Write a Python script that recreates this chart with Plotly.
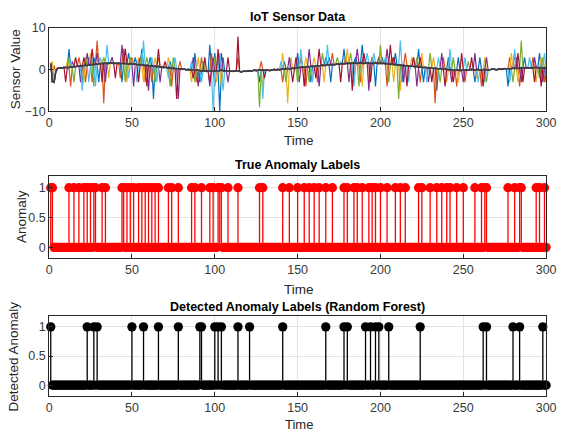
import plotly.graph_objects as go

# ---------------- data ----------------
time = list(range(1, 301))

# slowly drifting common level of the sensors (t = 1..300)
sensor_baseline = [
    1.5, -2.8, -3.0, -0.5, 0.3, 0.4, 0.5, 0.4, 0.6, 0.5,
    0.6, 0.5, 0.7, 0.6, 0.8, 0.7, 0.9, 0.8, 1.0, 0.9,
    1.0, 1.1, 1.0, 1.2, 1.1, 1.3, 1.2, 1.4, 1.3, 1.4,
    1.5, 1.4, 1.6, 1.5, 1.6, 1.5, 1.7, 1.6, 1.5, 1.6,
    1.5, 1.6, 1.4, 1.5, 1.6, 1.4, 1.5, 1.3, 1.4, 1.5,
    1.3, 1.4, 1.2, 1.3, 1.2, 1.1, 1.2, 1.0, 1.1, 1.0,
    0.9, 1.0, 0.8, 0.9, 0.7, 0.8, 0.6, 0.7, 0.5, 0.6,
    0.5, 0.4, 0.5, 0.3, 0.4, 0.3, 0.2, 0.3, 0.2, 0.1,
    0.2, 0.1, 0.0, 0.1, 0.0, -0.1, 0.0, -0.1, 0.0, -0.2,
    -0.2, -0.3, -0.2, -0.3, -0.4, -0.3, -0.2, -0.3, -0.4, -0.3,
    -0.2, -0.3, -0.2, -0.1, -0.2, -0.3, -0.2, -0.3, -0.4, -0.3,
    -0.4, -0.3, -0.2, -0.3, -0.4, -0.5, -0.4, -0.3, -0.4, -0.3,
    -0.2, -0.3, -0.2, -0.1, -0.2, -0.1, 0.0, -0.1, 0.0, -0.1,
    0.0, -0.1, -0.2, -0.1, 0.0, 0.1, 0.0, 0.1, 0.0, 0.1,
    0.2, 0.1, 0.2, 0.3, 0.2, 0.3, 0.4, 0.3, 0.4, 0.5,
    0.5, 0.6, 0.7, 0.6, 0.7, 0.8, 0.7, 0.8, 0.9, 0.8,
    0.9, 1.0, 0.9, 1.0, 1.1, 1.0, 1.1, 1.2, 1.1, 1.2,
    1.3, 1.2, 1.3, 1.4, 1.3, 1.4, 1.5, 1.4, 1.5, 1.6,
    1.5, 1.6, 1.5, 1.7, 1.6, 1.5, 1.6, 1.7, 1.6, 1.5,
    1.6, 1.7, 1.6, 1.5, 1.6, 1.5, 1.7, 1.6, 1.5, 1.6,
    1.5, 1.6, 1.4, 1.5, 1.4, 1.3, 1.4, 1.2, 1.3, 1.2,
    1.1, 1.2, 1.0, 1.1, 0.9, 1.0, 0.9, 0.8, 0.9, 0.8,
    0.7, 0.8, 0.6, 0.7, 0.6, 0.5, 0.6, 0.5, 0.4, 0.5,
    0.4, 0.3, 0.4, 0.3, 0.2, 0.3, 0.2, 0.1, 0.2, 0.1,
    0.0, 0.1, 0.0, -0.1, 0.0, -0.1, 0.0, -0.2, -0.1, 0.0,
    -0.1, 0.0, -0.1, 0.0, 0.1, 0.0, -0.1, 0.0, 0.1, 0.0,
    -0.1, 0.0, 0.1, 0.0, -0.1, 0.0, 0.1, 0.2, 0.1, 0.0,
    0.1, 0.2, 0.1, 0.2, 0.3, 0.2, 0.3, 0.2, 0.3, 0.4,
    0.3, 0.4, 0.3, 0.4, 0.5, 0.4, 0.5, 0.4, 0.5, 0.4,
    0.5, 0.4, 0.5, 0.6, 0.5, 0.4, 0.5, 0.4, 0.5, 0.4,
]

# spike readings of each sensor {time: value}
sensor1_spikes = {2: -2, 12: 5, 20: -3, 24: 3, 27: 3, 30: -3, 44: -3, 48: 4, 52: 3, 56: 5,
                  61: 3, 63: -7, 73: 2, 88: 4, 91: -3, 97: 6, 100: 4, 103: -10, 105: 3,
                  127: -3, 142: 2, 150: 4, 158: -3, 167: 3, 170: -3, 178: 5, 185: 3,
                  189: 6, 197: -4, 201: 3, 209: 4, 213: -3, 223: 5, 226: -3, 234: -5,
                  241: 3, 247: 3, 257: -3, 260: 3, 277: -4, 281: 4, 287: 3, 296: 4, 300: -3}
sensor2_spikes = {3: 1, 13: -4, 18: 3, 22: -3, 26: -3, 29: 7, 33: -8, 43: -2, 45: 5, 50: 3,
                  58: -3, 62: -3, 66: 3, 74: -4, 79: 2, 89: -3, 92: 3, 98: 4, 100: -4,
                  114: 3, 128: 2, 141: -3, 152: 3, 155: -4, 162: -3, 171: 4, 179: 3,
                  184: -3, 188: -3, 195: 3, 204: -4, 207: 3, 215: 4, 224: -3, 233: -8,
                  238: 3, 246: -4, 251: -3, 261: -4, 278: 3, 284: -4, 292: 3, 299: -3}
sensor3_spikes = {2: 2, 11: 2, 21: -3, 25: 4, 30: 3, 36: -2, 47: -3, 54: 3, 57: -3, 64: 3,
                  72: 3, 86: -3, 90: 3, 101: -3, 104: -4, 129: -4, 141: 4, 144: -8,
                  146: 3, 155: 3, 160: 3, 166: -3, 180: 5, 189: -4, 193: -3, 200: 4,
                  208: -3, 212: -5, 219: 3, 225: 4, 232: 3, 240: -3, 247: -3, 258: -2,
                  263: 3, 279: 4, 283: -3, 294: -3, 297: 3}
sensor4_spikes = {1: -3, 14: 2, 19: -3, 23: 4, 29: 4, 34: -3, 38: 3, 44: 6, 51: -4, 55: 3,
                  60: -5, 67: -3, 78: -7, 87: 3, 90: -4, 97: -4, 99: 3, 104: 4, 108: -3,
                  145: 3, 151: -3, 157: 5, 163: -4, 169: 3, 181: -3, 186: 5, 193: -5,
                  199: 3, 204: 5, 214: -3, 222: -4, 229: -3, 237: 4, 243: -3, 250: -3,
                  257: 4, 264: 3, 282: 3, 285: -3, 293: 3, 298: -3}
sensor5_spikes = {12: 3, 15: -3, 22: 3, 27: -4, 33: 3, 46: -3, 49: 3, 56: 4, 59: 3, 64: -3,
                  73: -4, 75: 3, 88: -3, 93: 2, 100: 3, 102: 3, 127: -9, 143: -3, 150: -3,
                  157: -3, 165: 4, 174: 3, 182: 4, 187: -4, 200: 6, 205: -3, 211: -7,
                  222: 3, 230: 4, 236: -3, 244: 3, 253: 2, 264: -3, 280: -3, 285: 7,
                  296: -2, 298: 3}
sensor6_spikes = {13: 2, 20: -5, 24: -3, 28: -4, 31: 3, 35: 6, 48: -2, 53: -3, 57: 7, 62: 3,
                  65: -3, 72: -2, 76: 3, 86: 2, 92: -3, 99: -10, 103: 4, 105: -5, 129: -7,
                  140: 2, 152: 5, 159: -3, 168: 6, 176: 2, 184: -4, 192: 4, 196: 4,
                  203: 3, 212: 7, 217: -3, 228: -3, 235: 3, 242: 5, 251: 3, 259: -3,
                  263: -3, 278: -3, 281: 5, 290: 3, 299: 4}
sensor7_spikes = {10: -3, 16: 3, 21: 3, 26: 5, 32: -3, 40: -2, 46: 5, 54: -3, 59: -4, 66: 5,
                  70: 2, 77: -7, 87: -2, 94: 3, 97: -3, 102: 5, 108: 3, 114: 8, 130: -2,
                  147: -3, 149: 3, 154: -4, 161: -2, 163: 5, 176: -3, 183: -5, 190: 4,
                  194: -3, 206: 6, 208: 3, 216: -4, 220: 3, 224: 3, 231: -3, 239: -4,
                  244: -3, 249: 4, 255: 3, 262: -4, 283: 4, 286: -3, 293: -3, 297: -4}

true_anomaly_times = [1, 2, 12, 15, 18, 21, 23, 25, 27, 28, 32, 34, 44, 45, 47, 49, 51,
                      54, 56, 58, 60, 62, 64, 66, 72, 74, 78, 86, 88, 92, 97, 99, 102,
                      103, 104, 108, 114, 127, 129, 141, 145, 150, 154, 157, 160, 163,
                      167, 171, 178, 180, 184, 186, 189, 193, 195, 197, 200, 204, 209,
                      212, 215, 223, 225, 230, 234, 237, 240, 242, 246, 250, 257, 261,
                      263, 264, 277, 281, 284, 285, 294, 296, 299]
detected_anomaly_times = [1, 23, 27, 29, 50, 57, 66, 78, 91, 92, 100, 102, 104, 114, 121,
                          141, 167, 178, 180, 191, 194, 197, 199, 205, 224, 262, 264,
                          280, 284, 298]

x_tick_vals = [0, 50, 100, 150, 200, 250, 300]
sensor_tick_vals = [-10, 0, 10]
label_tick_vals = [0, 0.5, 1]

sensor_colors = ["#0072BD", "#D95319", "#EDB120", "#7E2F8E", "#77AC30", "#4DBEEE", "#A2142F"]

# ---------------- figure ----------------
FONT = "Liberation Sans, Arial, sans-serif"
W, H = 566, 441
# the photographed page lands slightly shrunk and shifted; map picture pixels to page pixels
SX, OX = 0.975, 3.0
SY, OY = 0.964, 8.0
fig = go.Figure()

all_spikes = [sensor1_spikes, sensor2_spikes, sensor3_spikes, sensor4_spikes,
              sensor5_spikes, sensor6_spikes, sensor7_spikes]
for i, spk in enumerate(all_spikes):
    vals = list(sensor_baseline)
    for t, v in spk.items():
        vals[t - 1] = v
    fig.add_trace(go.Scatter(x=time, y=vals, mode="lines", xaxis="x", yaxis="y",
                             line=dict(color=sensor_colors[i], width=1.2),
                             name=f"Sensor {i+1}", showlegend=False))
fig.add_trace(go.Scatter(x=time, y=sensor_baseline, mode="lines", xaxis="x", yaxis="y",
                         line=dict(color="#3c3c48", width=1.6), showlegend=False))


def stem(times_set, color, xa, ya):
    labels = [1 if t in times_set else 0 for t in time]
    sx, sy = [], []
    for t, v in zip(time, labels):
        if v:
            sx += [t, t, None]
            sy += [0, v, None]
    fig.add_trace(go.Scatter(x=sx, y=sy, mode="lines", xaxis=xa, yaxis=ya,
                             line=dict(color=color, width=1.3), showlegend=False))
    fig.add_trace(go.Scatter(x=time, y=labels, mode="markers", xaxis=xa, yaxis=ya,
                             marker=dict(color=color, size=9.3), cliponaxis=False,
                             showlegend=False))


stem(set(true_anomaly_times), "#FF0000", "x2", "y2")
stem(set(detected_anomaly_times), "#000000", "x3", "y3")


def fx(xpic):
    return min(max((xpic - OX) / SX, 0), W) / W


def fy(ypic):
    return 1 - min(max((ypic - OY) / SY, 0), H) / H


xdom = [fx(49), fx(545)]


def ydom(top, bottom):
    return [fy(bottom), fy(top)]


common_x = dict(domain=xdom, range=[0, 300], tickvals=x_tick_vals, ticks="inside",
                ticklen=4, tickcolor="#262626", showline=True, mirror=True,
                linecolor="#262626", linewidth=1, showgrid=True, gridcolor="#e3e3e3",
                zeroline=False, ticklabeloverflow="allow",
                tickfont=dict(family=FONT, size=12.5, color="#3a3a3a"))
common_y = dict(ticks="inside", ticklen=4, tickcolor="#262626", showline=True,
                mirror=True, linecolor="#262626", linewidth=1, showgrid=True,
                gridcolor="#e3e3e3", zeroline=False,
                tickfont=dict(family=FONT, size=12.5, color="#3a3a3a"))

fig.update_layout(
    width=W, height=H, margin=dict(l=0, r=0, t=0, b=0),
    paper_bgcolor="white", plot_bgcolor="white", showlegend=False,
    xaxis=dict(common_x, anchor="y"),
    yaxis=dict(common_y, domain=ydom(29, 112), range=[-10, 10], tickvals=sensor_tick_vals,
               anchor="x", showgrid=False),
    xaxis2=dict(common_x, anchor="y2"),
    yaxis2=dict(common_y, domain=ydom(176, 258), range=[-0.18, 1.2],
                tickvals=label_tick_vals, ticktext=["0", "0.5", "1"], anchor="x2"),
    xaxis3=dict(common_x, anchor="y3", ticklabelstandoff=0),
    yaxis3=dict(common_y, domain=ydom(316, 395), range=[-0.18, 1.18],
                tickvals=label_tick_vals, ticktext=["0", "0.5", "1"], anchor="x3"),
)


def ann(text, xpic, ypic, size=12, bold=False, angle=0, color="#262626", yanchor="middle"):
    fig.add_annotation(text=f"<b>{text}</b>" if bold else text, xref="paper", yref="paper",
                       x=fx(xpic), y=fy(ypic), xanchor="center", yanchor=yanchor,
                       showarrow=False, textangle=angle,
                       font=dict(family=FONT, size=size, color=color))


cx = (49 + 545) / 2
ann("IoT Sensor Data", cx, 18, size=12.5, bold=True, color="#000000")
ann("True Anomaly Labels", cx, 165, size=12.5, bold=True, color="#000000")
ann("Detected Anomaly Labels (Random Forest)", cx, 307, size=12.5, bold=True, color="#000000")
ann("Time", 298, 141, size=13.5)
ann("Time", 298, 289, size=13.5)
ann("Time", 298, 441, size=13, yanchor="bottom")
ann("Sensor Value", 15, 70, size=13.5, angle=-90)
ann("Anomaly", 22, 217, size=13.5, angle=-90)
ann("Detected Anomaly", 14, 356, size=13.5, angle=-90)

fig.write_html("out.html", config={"displayModeBar": False},
               post_script="document.body.style.margin='0px';"
                           "document.documentElement.style.overflow='hidden';")
